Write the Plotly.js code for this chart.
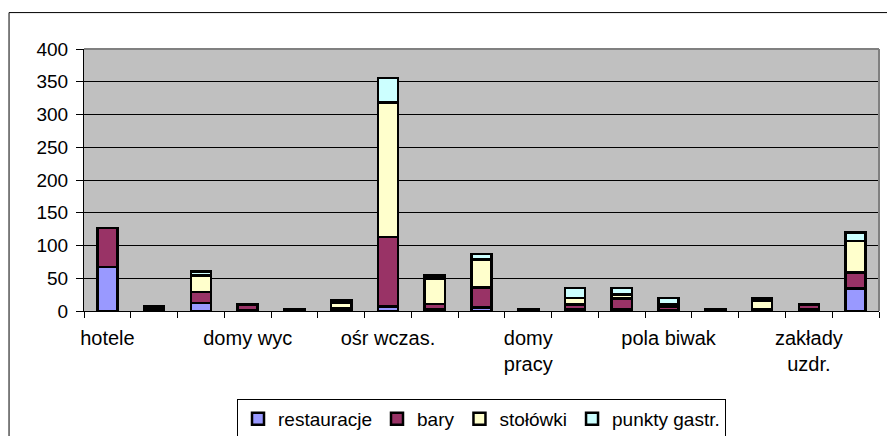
<!DOCTYPE html>
<html>
<head>
<meta charset="utf-8">
<script src="https://cdn.plot.ly/plotly-3.0.1.min.js"></script>
<style>html,body{margin:0;padding:0;background:#fff;}#chart{width:887px;height:436px;}</style>
</head>
<body>
<div id="chart"></div>
<script>
// category tick labels (Excel shows every 3rd category label)
const labels = ['hotele','','','domy wyc','','','ośr wczas.','','','domy<br>pracy','','','pola biwak','','','zakłady<br>uzdr.',''];
const idx = labels.map((_, i) => i);

const seriesNames = ['restauracje', 'bary', 'stołówki', 'punkty gastr.'];
const restauracje = [67, 2, 12, 1, 1, 1, 7, 2, 5, 1, 3, 2, 1, 1, 1, 2, 34];
const bary        = [60, 5, 17, 9, 2, 3, 106, 9, 31, 2, 7, 17, 6, 1, 1, 8, 25];
const stolowki    = [0, 0, 25, 0, 0, 9, 205, 39, 43, 0, 10, 6, 3, 0, 14, 0, 48];
const punkty      = [0, 0, 6, 0, 0, 3, 38, 4, 8, 0, 15, 10, 10, 0, 3, 0, 13];
const colors = ['#9999FF', '#993366', '#FFFFCC', '#CCFFFF'];

const yTicks = [0, 50, 100, 150, 200, 250, 300, 350, 400];

const fam = 'Liberation Sans, Arial, sans-serif';
const xfont = {family: fam, size: 20, color: '#000'};
const yfont = {family: fam, size: 19, color: '#000'};
const lfont = {family: fam, size: 19, color: '#000'};

const traces = [restauracje, bary, stolowki, punkty].map((v, k) => ({
  type: 'bar',
  name: seriesNames[k],
  x: idx,
  y: v,
  marker: {color: colors[k], line: {color: '#000', width: 2.5}},
  hoverinfo: 'none'
}));

const layout = {
  width: 887, height: 436,
  margin: {l: 84, r: 8, t: 49, b: 125},
  paper_bgcolor: '#ffffff',
  plot_bgcolor: '#c0c0c0',
  barmode: 'stack',
  bargap: 0.57,
  font: xfont,
  showlegend: true,
  legend: {
    orientation: 'h', x: 0.5, xanchor: 'center',
    yref: 'container', y: 0.085, yanchor: 'top',
    bordercolor: '#000', borderwidth: 1, font: lfont, traceorder: 'normal',
    itemwidth: 30, tracegroupgap: 0
  },
  xaxis: {
    range: [-0.5, labels.length - 0.5],
    tickmode: 'array', tickvals: idx, ticktext: labels,
    ticks: '', showgrid: false, zeroline: false,
    showline: true, linecolor: '#000', linewidth: 1,
    tickfont: xfont, tickangle: 0, ticklabelstandoff: 9,
    minor: {tickmode: 'linear', tick0: -0.5, dtick: 1, ticks: 'outside', ticklen: 6, tickcolor: '#000', tickwidth: 1, showgrid: false},
    fixedrange: true
  },
  yaxis: {
    range: [0, 400],
    tickmode: 'array', tickvals: yTicks,
    ticks: 'outside', ticklen: 7, tickcolor: '#000', tickwidth: 1,
    showgrid: true, gridcolor: '#000', gridwidth: 1,
    zeroline: false, showline: true, linecolor: '#000', linewidth: 1,
    tickfont: yfont, ticklabelstandoff: 4, fixedrange: true
  },
  shapes: [
    {type: 'line', xref: 'paper', yref: 'paper', x0: 0, x1: 1, y0: 1, y1: 1, line: {color: '#808080', width: 2}},
    {type: 'line', xref: 'paper', yref: 'paper', x0: 1, x1: 1, y0: 0, y1: 1, line: {color: '#808080', width: 2}},
    {type: 'line', xref: 'paper', yref: 'paper', x0: -0.0943, x1: -0.0943, y0: -0.5, y1: 1.139, line: {color: '#000', width: 1}},
    {type: 'line', xref: 'paper', yref: 'paper', x0: -0.0943, x1: 1.05, y0: 1.139, y1: 1.139, line: {color: '#000', width: 1}}
  ]
};

Plotly.newPlot('chart', traces, layout, {displayModeBar: false, staticPlot: true});
</script>
</body>
</html>
